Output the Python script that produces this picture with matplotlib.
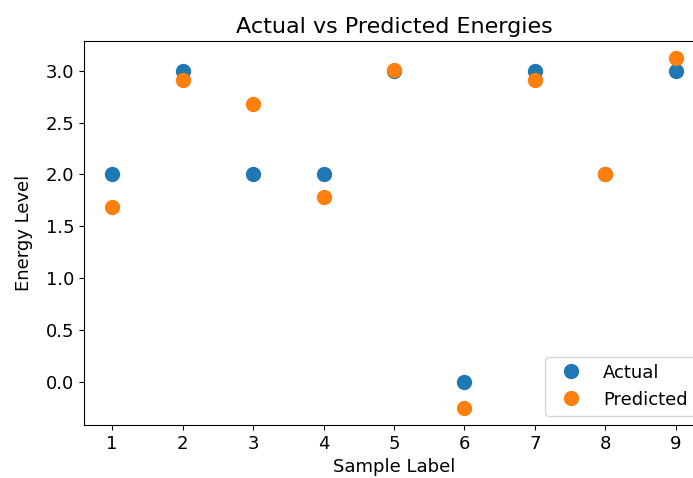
import matplotlib
matplotlib.use('Agg')
import matplotlib.pyplot as plt

# data
labels = [1, 2, 3, 4, 5, 6, 7, 8, 9]
actual = [2.0, 3.0, 2.0, 2.0, 3.0, 0.0, 3.0, 2.0, 3.0]
predicted = [1.69, 2.91, 2.68, 1.78, 3.01, -0.25, 2.91, 2.0, 3.12]

plt.rcParams['font.size'] = 13

fig = plt.figure(figsize=(6.93, 4.78), dpi=100)
# the reference is cropped on the right, so the axes runs past the edge
ax = fig.add_axes([84/693, 53/478, 620/693, 384/478])
ax.plot(labels, actual, 'o', markersize=10, label='Actual')
ax.plot(labels, predicted, 'o', markersize=10, label='Predicted')
ax.set_xticks(labels)
ax.set_title('Actual vs Predicted Energies', fontsize=16)
ax.set_xlabel('Sample Label')
ax.set_ylabel('Energy Level', labelpad=9)
ax.legend(loc='lower right')

fig.savefig('out.png', dpi=100)
